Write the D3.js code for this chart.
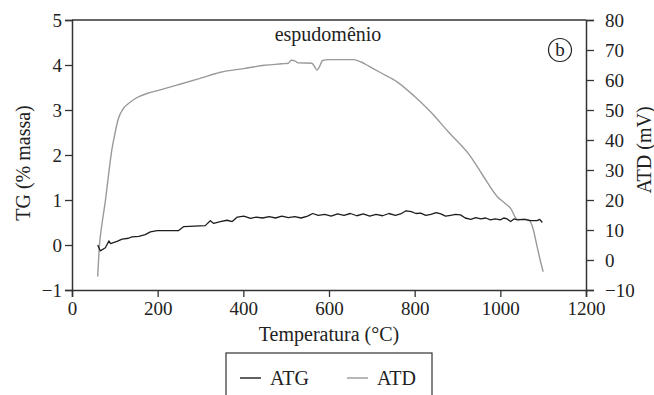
<!DOCTYPE html>
<html>
<head>
<meta charset="utf-8">
<script src="https://cdn.jsdelivr.net/npm/d3@7"></script>
<style>
  body { margin: 0; background: #fff; }
  svg { display: block; }
  text { font-family: "Liberation Serif", "Times New Roman", serif; fill: #222; }
</style>
</head>
<body>
<svg id="chart" width="654" height="395"></svg>
<script>
// temperature (°C) vs TG (% massa) - black line
const atg_temp = [60, 66, 78, 86, 90, 105, 117, 132, 140, 156, 171, 183, 199, 249, 261, 311, 323, 331, 346, 362, 374, 386, 401, 417, 430, 445, 460, 475, 490, 505, 520, 535, 550, 562, 575, 590, 605, 620, 635, 650, 665, 680, 695, 710, 725, 740, 755, 767, 780, 792, 803, 814, 826, 838, 850, 861, 872, 884, 895, 907, 918, 931, 943, 954, 966, 977, 988, 1000, 1008, 1016, 1024, 1032, 1040, 1055, 1071, 1086, 1092, 1098];
const atg_vals = [0.0, -0.13, -0.06, 0.09, 0.03, 0.08, 0.13, 0.15, 0.18, 0.19, 0.23, 0.29, 0.32, 0.32, 0.41, 0.43, 0.54, 0.48, 0.52, 0.55, 0.52, 0.62, 0.64, 0.59, 0.62, 0.6, 0.63, 0.6, 0.64, 0.61, 0.63, 0.6, 0.64, 0.7, 0.66, 0.68, 0.64, 0.69, 0.66, 0.7, 0.65, 0.69, 0.64, 0.68, 0.65, 0.7, 0.66, 0.69, 0.76, 0.74, 0.7, 0.71, 0.66, 0.68, 0.72, 0.69, 0.64, 0.66, 0.68, 0.67, 0.6, 0.57, 0.61, 0.58, 0.6, 0.56, 0.58, 0.56, 0.6, 0.58, 0.52, 0.58, 0.56, 0.57, 0.54, 0.54, 0.57, 0.5];

// temperature (°C) vs ATD (mV) - gray line
const atd_temp = [60, 64, 70, 78, 85, 93, 100, 108, 120, 135, 150, 175, 206, 250, 300, 347, 400, 450, 490, 505, 512, 520, 528, 560, 566, 572, 578, 585, 600, 657, 675, 693, 720, 759, 800, 837, 880, 931, 960, 993, 1010, 1024, 1040, 1060, 1070, 1075, 1086, 1093, 1100];
const atd_vals = [-5.5, 4.7, 12, 19.8, 28, 36.7, 42, 47, 50.5, 52.5, 54, 55.5, 56.7, 58.5, 60.6, 62.6, 63.8, 64.9, 65.4, 65.6, 66.6, 66.4, 65.7, 65.6, 64.5, 63.3, 64.5, 66.5, 66.8, 66.8, 66.0, 64.6, 62.5, 59.4, 54.5, 49.4, 42.5, 34.4, 28, 21.1, 19, 17.2, 13.5, 13.6, 12.8, 11.1, 4.4, 0, -3.9];

const x_ticks = [0, 200, 400, 600, 800, 1000, 1200];
const tg_ticks = [-1, 0, 1, 2, 3, 4, 5];
const atd_ticks = [-10, 0, 10, 20, 30, 40, 50, 60, 70, 80];

const svg = d3.select("#chart");
const m_left = 72, m_right = 586, m_top = 20, m_bottom = 290;
const axisColor = "#333";

const x = d3.scaleLinear().domain([0, 1200]).range([m_left, m_right]);
const yTG = d3.scaleLinear().domain([-1, 5]).range([m_bottom, m_top]);
const yATD = d3.scaleLinear().domain([-10, 80]).range([m_bottom, m_top]);

const fmt = d => (d < 0 ? "\u2212" + Math.abs(d) : String(d));

// top frame line
svg.append("line")
  .attr("x1", m_left).attr("x2", m_right)
  .attr("y1", m_top).attr("y2", m_top)
  .attr("stroke", axisColor).attr("stroke-width", 1.5);

function styleAxis(g) {
  g.select(".domain").attr("stroke", axisColor).attr("stroke-width", 1.5);
  g.selectAll(".tick line").attr("stroke", axisColor).attr("stroke-width", 1.3);
  g.selectAll(".tick text").attr("fill", "#222").style("font-size", "19px")
    .style("font-family", "'Liberation Serif', serif");
}

// x axis
const gx = svg.append("g")
  .attr("transform", `translate(0,${m_bottom})`)
  .call(d3.axisBottom(x).tickValues(x_ticks).tickSizeOuter(0).tickSize(7).tickPadding(5).tickFormat(fmt));
styleAxis(gx);

// left axis TG
const gl = svg.append("g")
  .attr("transform", `translate(${m_left},0)`)
  .call(d3.axisLeft(yTG).tickValues(tg_ticks).tickSizeOuter(0).tickSize(7).tickPadding(3).tickFormat(fmt));
styleAxis(gl);

// right axis ATD
const gr = svg.append("g")
  .attr("transform", `translate(${m_right},0)`)
  .call(d3.axisRight(yATD).tickValues(atd_ticks).tickSizeOuter(0).tickSize(8).tickPadding(11).tickFormat(fmt));
styleAxis(gr);

// ATD line (gray)
const atdLine = d3.line()
  .x((d, i) => x(atd_temp[i]))
  .y(d => yATD(d))
  .curve(d3.curveMonotoneX);
svg.append("path")
  .datum(atd_vals)
  .attr("fill", "none")
  .attr("stroke", "#9a9a9a")
  .attr("stroke-width", 1.4)
  .attr("d", atdLine);

// ATG line (black)
const atgLine = d3.line()
  .x((d, i) => x(atg_temp[i]))
  .y(d => yTG(d));
svg.append("path")
  .datum(atg_vals)
  .attr("fill", "none")
  .attr("stroke", "#1e1e1e")
  .attr("stroke-width", 1.3)
  .attr("stroke-linejoin", "round")
  .attr("d", atgLine);

// titles
svg.append("text")
  .attr("x", (m_left + m_right) / 2).attr("y", 341)
  .attr("text-anchor", "middle")
  .style("font-size", "20px")
  .text("Temperatura (°C)");

svg.append("text")
  .attr("transform", "translate(30,163) rotate(-90)")
  .attr("text-anchor", "middle")
  .style("font-size", "20px")
  .text("TG (% massa)");

svg.append("text")
  .attr("transform", "translate(651,150) rotate(-90)")
  .attr("text-anchor", "middle")
  .style("font-size", "20px")
  .text("ATD (mV)");

svg.append("text")
  .attr("x", 328).attr("y", 41)
  .attr("text-anchor", "middle")
  .style("font-size", "20px")
  .text("espudomênio");

// panel label (b)
svg.append("circle")
  .attr("cx", 560).attr("cy", 50).attr("r", 11.5)
  .attr("fill", "none").attr("stroke", "#222").attr("stroke-width", 1.2);
svg.append("text")
  .attr("x", 560).attr("y", 56)
  .attr("text-anchor", "middle")
  .style("font-size", "19px")
  .text("b");

// legend
svg.append("rect")
  .attr("x", 226).attr("y", 353)
  .attr("width", 206).attr("height", 60)
  .attr("fill", "none").attr("stroke", "#333").attr("stroke-width", 1.2);

const legendItems = [
  { name: "ATG", color: "#1e1e1e", x: 240 },
  { name: "ATD", color: "#9a9a9a", x: 347 }
];
const lg = svg.selectAll("g.legend").data(legendItems).enter()
  .append("g").attr("class", "legend");
lg.append("line")
  .attr("x1", d => d.x).attr("x2", d => d.x + 21)
  .attr("y1", 378).attr("y2", 378)
  .attr("stroke", d => d.color).attr("stroke-width", 1.4);
lg.append("text")
  .attr("x", d => d.x + 30).attr("y", 385)
  .style("font-size", "20px")
  .text(d => d.name);
</script>
</body>
</html>
